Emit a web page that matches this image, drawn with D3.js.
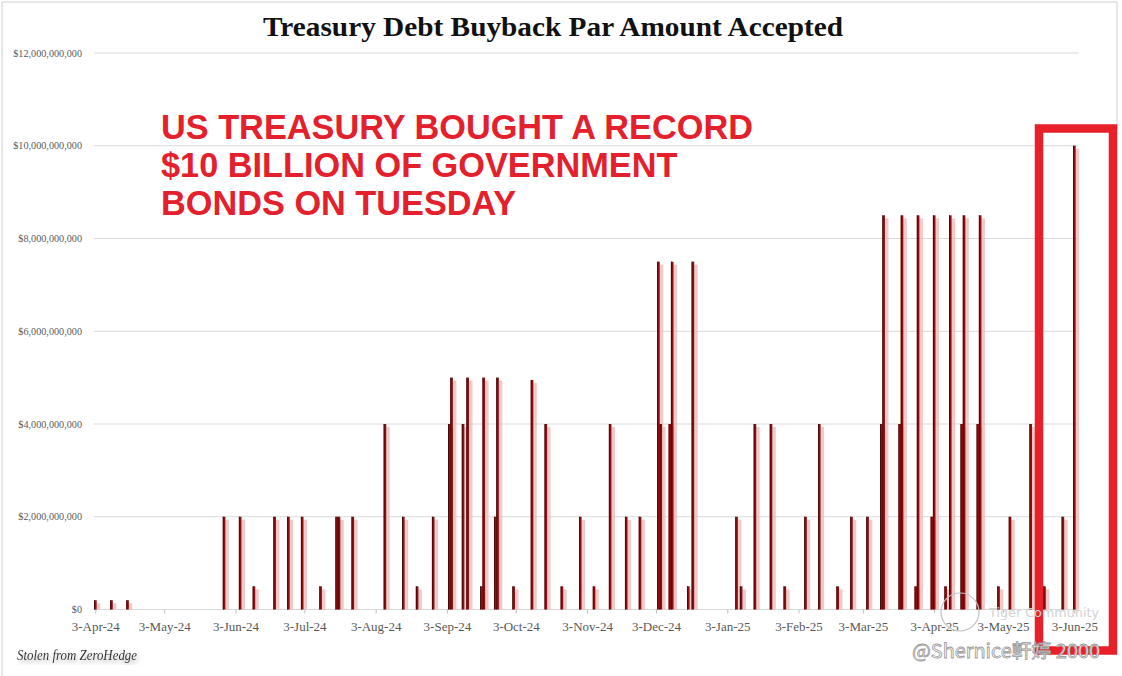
<!DOCTYPE html>
<html lang="en">
<head>
<meta charset="UTF-8">
<title>Treasury Debt Buyback Par Amount Accepted</title>
<script src="https://d3js.org/d3.v7.min.js"></script>
<style>
  body {margin: 0; background: #fff;}
  svg {display: block;}
  .xlab text, .ylab {font-family: "Liberation Serif", serif; fill: #595959;}
</style>
</head>
<body>
<svg width="1122" height="676"></svg>
<script>
// buyback operation dates and par accepted (in $ billions)
const buybackDates = [
  "2024-04-03","2024-04-10","2024-04-17","2024-05-29","2024-06-05","2024-06-11",
  "2024-06-20","2024-06-26","2024-07-02","2024-07-10","2024-07-17","2024-07-18",
  "2024-07-24","2024-08-07","2024-08-15","2024-08-21","2024-08-28","2024-09-04",
  "2024-09-05","2024-09-10","2024-09-12","2024-09-18","2024-09-19","2024-09-24",
  "2024-09-25","2024-10-02","2024-10-10","2024-10-16","2024-10-23","2024-10-31",
  "2024-11-06","2024-11-13","2024-11-20","2024-11-26","2024-12-04","2024-12-05",
  "2024-12-09","2024-12-10","2024-12-17","2024-12-19","2025-01-07","2025-01-09",
  "2025-01-15","2025-01-22","2025-01-28","2025-02-06","2025-02-12","2025-02-20",
  "2025-02-26","2025-03-05","2025-03-11","2025-03-12","2025-03-19","2025-03-20",
  "2025-03-26","2025-03-27","2025-04-02","2025-04-03","2025-04-08","2025-04-10",
  "2025-04-15","2025-04-16","2025-04-22","2025-04-23","2025-05-01","2025-05-06",
  "2025-05-15","2025-05-21","2025-05-29","2025-06-03"
];
const buybackBillions = [
  0.2, 0.2, 0.2, 2, 2, 0.5,
  2, 2, 2, 0.5, 2, 2,
  2, 4, 2, 0.5, 2, 4,
  5, 4, 5, 0.5, 5, 2,
  5, 0.5, 4.95, 4, 0.5, 2,
  0.5, 4, 2, 2, 7.5, 4,
  4, 7.5, 0.5, 7.5, 2, 0.5,
  4, 4, 0.5, 2, 4, 0.5,
  2, 2, 4, 8.5, 4, 8.5,
  0.5, 8.5, 2, 8.5, 0.5, 8.5,
  4, 8.5, 4, 8.5, 0.5, 2,
  4, 0.5, 2, 10
];
const xTickLabels = ["3-Apr-24","3-May-24","3-Jun-24","3-Jul-24","3-Aug-24","3-Sep-24","3-Oct-24",
  "3-Nov-24","3-Dec-24","3-Jan-25","3-Feb-25","3-Mar-25","3-Apr-25","3-May-25","3-Jun-25"];
const yTicks = [0, 2e9, 4e9, 6e9, 8e9, 10e9, 12e9];
const headline = ["US TREASURY BOUGHT A RECORD", "$10 BILLION OF GOVERNMENT", "BONDS ON TUESDAY"];

const parseDay = d3.timeParse("%Y-%m-%d");
const parseTick = d3.timeParse("%d-%b-%y");
const data = buybackDates.map((d, i) => ({date: parseDay(d), value: buybackBillions[i] * 1e9}));
const tickDates = xTickLabels.map(parseTick);

const x = d3.scaleTime()
  .domain([tickDates[0], tickDates[tickDates.length - 1]])
  .range([95.3, 1074.3]);
const y = d3.scaleLinear().domain([0, 12e9]).range([609.5, 53]);

const svg = d3.select("svg");

const defs = svg.append("defs");
defs.append("filter").attr("id", "soft")
  .append("feDropShadow").attr("dx", 2).attr("dy", 3).attr("stdDeviation", 2)
  .attr("flood-color", "#888").attr("flood-opacity", 0.6);

// outer frame
svg.append("path")
  .attr("d", "M2,676 V2 H1117 V130")
  .attr("fill", "none").attr("stroke", "#d0d0d0");

// title
svg.append("text")
  .attr("x", 553).attr("y", 36)
  .attr("text-anchor", "middle")
  .attr("textLength", 580).attr("lengthAdjust", "spacingAndGlyphs")
  .style("font-family", "'Liberation Serif', serif")
  .style("font-weight", "bold").style("font-size", "28px")
  .style("fill", "#111")
  .text("Treasury Debt Buyback Par Amount Accepted");

// gridlines + y labels
svg.append("g").selectAll("line").data(yTicks).enter().append("line")
  .attr("x1", 94).attr("x2", 1078)
  .attr("y1", d => y(d)).attr("y2", d => y(d))
  .attr("stroke", "#d9d9d9").attr("stroke-width", 1);

svg.append("g").selectAll("text").data(yTicks).enter().append("text")
  .attr("class", "ylab")
  .attr("x", 82).attr("y", d => y(d))
  .attr("dy", "0.35em").attr("text-anchor", "end")
  .style("font-size", "10.2px")
  .text(d3.format("$,"));

// x axis
const xAxis = svg.append("g").attr("class", "xlab")
  .attr("transform", "translate(0," + y(0) + ")")
  .call(d3.axisBottom(x).tickValues(tickDates).tickSize(4).tickPadding(8)
    .tickFormat((d, i) => xTickLabels[i]));
xAxis.select(".domain").remove();
xAxis.selectAll(".tick line").attr("stroke", "#bfbfbf");
xAxis.selectAll("text").style("font-size", "13px").style("fill", "#595959");

// bars: pink shadow then dark red column with darker left edge
const bars = svg.append("g");
bars.selectAll("rect.shadow").data(data).enter().append("rect")
  .attr("class", "shadow")
  .attr("x", d => x(d.date) + 1.3)
  .attr("y", d => y(d.value) + 3)
  .attr("width", 3.6)
  .attr("height", d => y(0) - y(d.value) - 3)
  .attr("fill", "#efb5b5").attr("opacity", 0.75);
bars.selectAll("rect.bar").data(data).enter().append("rect")
  .attr("class", "bar")
  .attr("x", d => x(d.date) - 1.2)
  .attr("y", d => y(d.value))
  .attr("width", 2.6)
  .attr("height", d => y(0) - y(d.value))
  .attr("fill", "#8c1010");
bars.selectAll("rect.edge").data(data).enter().append("rect")
  .attr("class", "edge")
  .attr("x", d => x(d.date) - 1.2)
  .attr("y", d => y(d.value))
  .attr("width", 0.9)
  .attr("height", d => y(0) - y(d.value))
  .attr("fill", "#4a0808");

// headline annotation
svg.append("g").selectAll("text").data(headline).enter().append("text")
  .attr("x", 161).attr("y", (d, i) => 139 + i * 38)
  .style("font-family", "'Liberation Sans', Arial, sans-serif")
  .style("font-weight", "bold").style("font-size", "34.3px")
  .style("fill", "#e3202b")
  .text(d => d);

// highlight box around the latest bar
svg.append("rect")
  .attr("x", 1039).attr("y", 128.5)
  .attr("width", 74).attr("height", 522)
  .attr("fill", "none").attr("stroke", "#e8202a").attr("stroke-width", 8.5);

// source note
svg.append("text")
  .attr("x", 17).attr("y", 660)
  .attr("filter", "url(#soft)")
  .attr("textLength", 120).attr("lengthAdjust", "spacingAndGlyphs")
  .style("font-family", "'Liberation Serif', serif")
  .style("font-style", "italic").style("font-size", "14px")
  .style("fill", "#333")
  .text("Stolen from ZeroHedge");

// watermark
svg.append("circle")
  .attr("cx", 960).attr("cy", 612).attr("r", 19)
  .attr("fill", "none").attr("stroke", "#c4c4c4").attr("stroke-width", 1.2);
svg.append("text")
  .attr("x", 989).attr("y", 617)
  .attr("textLength", 110).attr("lengthAdjust", "spacingAndGlyphs")
  .style("font-family", "'DejaVu Sans', sans-serif").style("font-size", "13px")
  .style("fill", "#d2d2d2")
  .text("Tiger Community");
svg.append("text")
  .attr("x", 912).attr("y", 658)
  .attr("textLength", 188).attr("lengthAdjust", "spacingAndGlyphs")
  .style("font-family", "'Noto Sans CJK TC', 'Noto Sans', sans-serif").style("font-size", "19px")
  .style("fill", "#fff").style("stroke", "#9a9a9a").style("stroke-width", 0.8)
  .text("@Shernice軒婷 2000");
</script>
</body>
</html>
